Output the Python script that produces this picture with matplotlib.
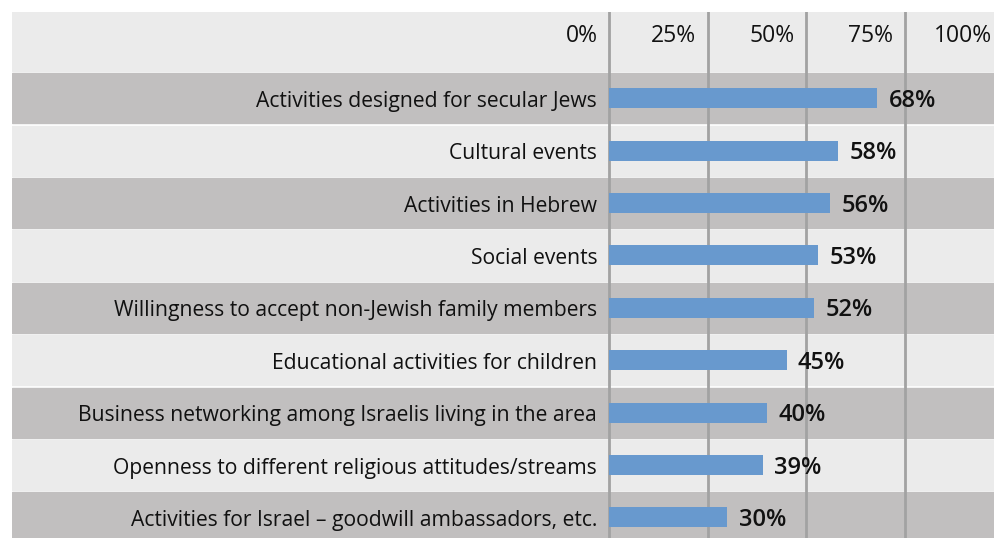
import matplotlib.pyplot as plt

categories = [
    "Activities designed for secular Jews",
    "Cultural events",
    "Activities in Hebrew",
    "Social events",
    "Willingness to accept non-Jewish family members",
    "Educational activities for children",
    "Business networking among Israelis living in the area",
    "Openness to different religious attitudes/streams",
    "Activities for Israel \u2013 goodwill ambassadors, etc.",
]
values = [68, 58, 56, 53, 52, 45, 40, 39, 30]
ticks = [0, 25, 50, 75, 100]
tick_labels = ["0%", "25%", "50%", "75%", "100%"]

DARK = "#c1bfbf"
LIGHT = "#ebebeb"
BAR = "#6899ce"
GRID = "#a2a2a2"

plt.rcParams['font.family'] = ['Open Sans', 'DejaVu Sans']

W, H = 994, 538
fig = plt.figure(figsize=(W / 100, H / 100), dpi=100)

# axes spans the table area; x in percent, y in row units
left_px, top_px = 12, 12
ax = fig.add_axes([left_px / W, 0, 1 - left_px / W, 1 - top_px / H])
px_per_pct = 3.945
zero_px = 609
ax.set_xlim(-(zero_px - left_px) / px_per_pct, (W - zero_px) / px_per_pct)
row_px = 52.4
first_row_px = 73
ax.set_ylim((H - first_row_px) / row_px, (top_px - first_row_px) / row_px)
ax.axis("off")

# header band
ax.axhspan(ax.get_ylim()[1], -0.04, color=LIGHT, zorder=0)
for i, (cat, val) in enumerate(zip(categories, values)):
    ax.axhspan(i + 0.005, i + 0.96, color=DARK if i % 2 == 0 else LIGHT, zorder=0)
    ax.barh(i + 0.48, val, height=0.38, left=0, color=BAR, zorder=3)
    ax.text(-3.0, i + 0.54, cat, ha="right", va="center", fontsize=15.2, color="#111111", zorder=4)
    ax.text(val + 2.9, i + 0.53, f"{val}%", ha="left", va="center", fontsize=17,
            fontweight="semibold", color="#111111", zorder=4)

for t, lab in zip(ticks, tick_labels):
    ax.axvline(t, color=GRID, lw=2, zorder=2)
    ax.text(t - 2.9, -0.7, lab, ha="right", va="center", fontsize=16.5, color="#111111", zorder=4)

fig.savefig("out.png", dpi=100)
